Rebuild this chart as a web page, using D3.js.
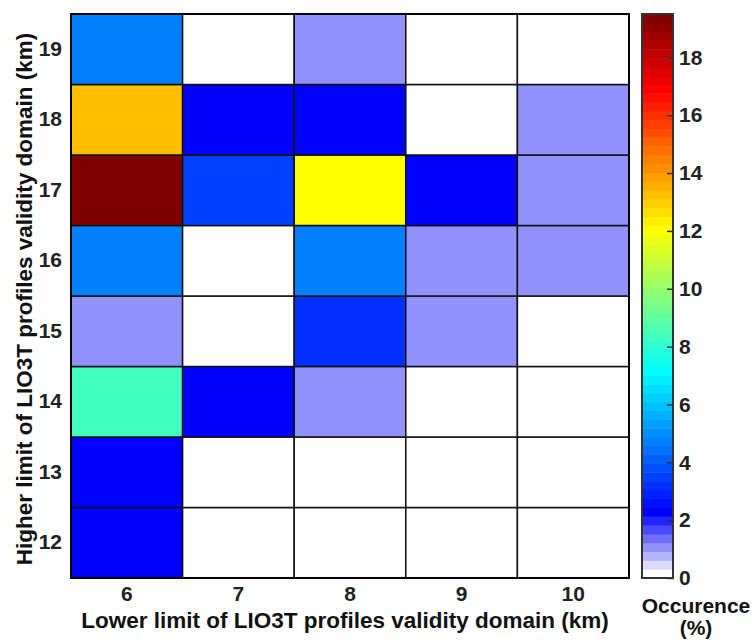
<!DOCTYPE html>
<html>
<head>
<meta charset="utf-8">
<script src="https://cdn.jsdelivr.net/npm/d3@7"></script>
<style>
  body { margin: 0; background: #fff; }
  text { font-family: "Liberation Sans", Arial, sans-serif; font-weight: bold; }
</style>
</head>
<body>
<div id="container"></div>
<script>
const width = 754;
const height = 642;

// categories
const lowerLimits = [6, 7, 8, 9, 10];
const higherLimits = [12, 13, 14, 15, 16, 17, 18, 19];

// occurrence (%) for each higher limit, columns = lower limit 6..10
const occ12 = [2.3, 0, 0, 0, 0];
const occ13 = [2.3, 0, 0, 0, 0];
const occ14 = [8.4, 2.3, 1.1, 0, 0];
const occ15 = [1.1, 0, 3.2, 1.1, 0];
const occ16 = [4.7, 0, 4.7, 1.1, 1.1];
const occ17 = [19.4, 3.5, 12.0, 2.3, 1.1];
const occ18 = [13.3, 2.3, 2.3, 0, 1.1];
const occ19 = [4.7, 0, 1.1, 0, 0];
const rows = [occ12, occ13, occ14, occ15, occ16, occ17, occ18, occ19];

const cbMax = 19.5;
const cbTicks = [0, 2, 4, 6, 8, 10, 12, 14, 16, 18];
const nLevels = 64;

const cells = [];
higherLimits.forEach((h, i) => {
  lowerLimits.forEach((l, j) => cells.push({ lo: l, hi: h, v: rows[i][j] }));
});

// jet(64) with the first 7 levels faded to white
const clamp = t => Math.max(0, Math.min(1, t));
function levelColor(k) {
  if (k < 7) {
    const c = Math.round(255 * (1 - k / 7));
    return d3.rgb(c, c, 255);
  }
  const r = clamp((k - 23) / 16) - clamp((k - 55) / 16);
  const g = clamp((k - 7) / 16) - clamp((k - 39) / 16);
  const b = clamp((k + 9) / 16) - clamp((k - 23) / 16);
  return d3.rgb(r * 255, g * 255, b * 255);
}
const level = v => Math.min(nLevels - 1, Math.floor(v / cbMax * nLevels));
const color = v => levelColor(level(v));

const margin = { left: 71, right: 629, top: 14, bottom: 578 };

const x = d3.scaleBand().domain(lowerLimits).range([margin.left, margin.right]);
const y = d3.scaleBand().domain(higherLimits).range([margin.bottom, margin.top]);

const svg = d3.select("#container")
  .append("svg")
  .attr("width", width)
  .attr("height", height)
  .attr("viewBox", [0, 0, width, height]);

svg.append("g")
  .selectAll("rect")
  .data(cells)
  .join("rect")
  .attr("x", d => x(d.lo))
  .attr("y", d => y(d.hi))
  .attr("width", x.bandwidth())
  .attr("height", y.bandwidth())
  .attr("fill", d => color(d.v))
  .attr("stroke", "#111")
  .attr("stroke-width", 1.5);

svg.append("rect")
  .attr("x", margin.left)
  .attr("y", margin.top)
  .attr("width", margin.right - margin.left)
  .attr("height", margin.bottom - margin.top)
  .attr("fill", "none")
  .attr("stroke", "#000")
  .attr("stroke-width", 2);

// axes
const xAxis = svg.append("g")
  .attr("transform", `translate(0,${margin.bottom})`)
  .call(d3.axisBottom(x).tickSize(0).tickPadding(8));
const yAxis = svg.append("g")
  .attr("transform", `translate(${margin.left},0)`)
  .call(d3.axisLeft(y).tickSize(0).tickPadding(9));
[xAxis, yAxis].forEach(a => {
  a.select(".domain").remove();
  a.selectAll("text").attr("font-size", 21).attr("fill", "#222")
    .attr("font-family", null);
});

svg.append("text")
  .attr("x", 345)
  .attr("y", 628)
  .attr("text-anchor", "middle")
  .attr("font-size", 22.5)
  .attr("fill", "#111")
  .text("Lower limit of LIO3T profiles validity domain (km)");

svg.append("text")
  .attr("transform", `translate(32,${(margin.top + margin.bottom) / 2 + 3}) rotate(-90)`)
  .attr("text-anchor", "middle")
  .attr("font-size", 22.5)
  .attr("fill", "#111")
  .text("Higher limit of LIO3T profiles validity domain (km)");

// colorbar
const cbX0 = 642, cbX1 = 673;
const cbY = d3.scaleLinear().domain([0, cbMax]).range([margin.bottom, margin.top]);
const levels = d3.range(nLevels);
svg.append("g")
  .selectAll("rect")
  .data(levels)
  .join("rect")
  .attr("x", cbX0)
  .attr("y", k => cbY((k + 1) * cbMax / nLevels))
  .attr("width", cbX1 - cbX0)
  .attr("height", k => cbY(k * cbMax / nLevels) - cbY((k + 1) * cbMax / nLevels) + 0.5)
  .attr("fill", k => levelColor(k));

svg.append("rect")
  .attr("x", cbX0)
  .attr("y", margin.top)
  .attr("width", cbX1 - cbX0)
  .attr("height", margin.bottom - margin.top)
  .attr("fill", "none")
  .attr("stroke", "#333")
  .attr("stroke-width", 2);

const cbAxis = svg.append("g")
  .attr("transform", `translate(${cbX1},0)`)
  .call(d3.axisRight(cbY).tickValues(cbTicks).tickSize(-6).tickPadding(6));
cbAxis.select(".domain").remove();
cbAxis.selectAll("line").attr("stroke", "#333").attr("stroke-width", 1.5);
cbAxis.selectAll("text").attr("font-size", 21).attr("fill", "#222").attr("font-family", null);

svg.append("text")
  .attr("x", 696)
  .attr("y", 613)
  .attr("text-anchor", "middle")
  .attr("font-size", 21)
  .attr("fill", "#111")
  .text("Occurence");
svg.append("text")
  .attr("x", 696)
  .attr("y", 635)
  .attr("text-anchor", "middle")
  .attr("font-size", 21)
  .attr("fill", "#111")
  .text("(%)");
</script>
</body>
</html>
